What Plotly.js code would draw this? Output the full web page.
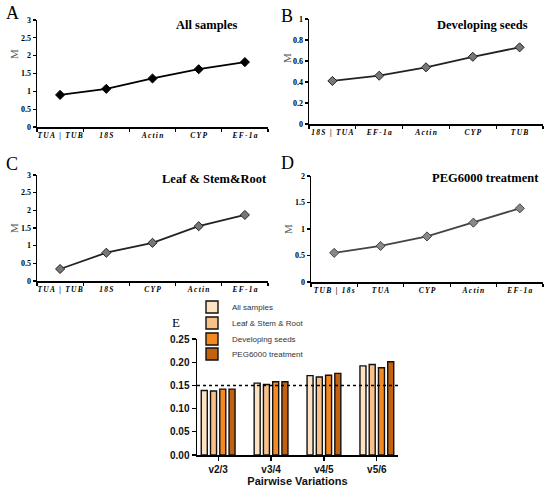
<!DOCTYPE html>
<html><head><meta charset="utf-8">
<script src="https://cdn.plot.ly/plotly-3.0.1.min.js"></script>
<style>html,body{margin:0;padding:0;background:#fff}#chart{width:550px;height:488px}</style>
</head><body><div id="chart"></div>
<script>
// ---- data ----
const catsA = ['TUA | TUB','18S','Actin','CYP','EF-1a'];
const valsA = [0.90,1.07,1.36,1.62,1.82];
const catsB = ['18S | TUA','EF-1a','Actin','CYP','TUB'];
const valsB = [0.41,0.46,0.54,0.64,0.73];
const catsC = ['TUA | TUB','18S','CYP','Actin','EF-1a'];
const valsC = [0.34,0.80,1.08,1.55,1.87];
const catsD = ['TUB | 18s','TUA','CYP','Actin','EF-1a'];
const valsD = [0.55,0.68,0.86,1.12,1.39];
const pairCats = ['v2/3','v3/4','v4/5','v5/6'];
const seriesNames = ['All samples','Leaf & Stem & Root','Developing seeds','PEG6000 treatment'];
const eAll  = [0.139,0.155,0.171,0.192];
const eLeaf = [0.138,0.152,0.168,0.195];
const eSeed = [0.142,0.158,0.172,0.188];
const ePeg  = [0.142,0.158,0.176,0.201];
const threshold = 0.15;

// ---- helpers ----
const W = 550, H = 488;
const spaced = s => s.split('').join('\u2006');
const dx = (a,b) => [a/W, b/W];
const dy = (top,bot) => [1-bot/H, 1-top/H];
const serif = 'Liberation Serif, Times New Roman, serif';
const sans = 'Liberation Sans, Arial, sans-serif';

function lineTrace(cats, vals, xa, ya, lineColor, fill) {
  return {
    type:'scatter', mode:'lines+markers', x: cats.map(spaced), y: vals,
    xaxis: xa, yaxis: ya, showlegend:false, hoverinfo:'skip',
    line:{color:lineColor, width:1.8},
    marker:{symbol:'diamond', size:7, color:fill, line:{color:lineColor, width:1}}
  };
}
const barColors = ['#FDE3C4','#F9C188','#F5891F','#C2620F'];
const barSeries = [eAll, eLeaf, eSeed, ePeg];
const legendIds = ['legend','legend2','legend3','legend4'];
const bars = barSeries.map((v,i) => ({
  type:'bar', x: pairCats, y: v, name: seriesNames[i], xaxis:'x5', yaxis:'y5', legend: legendIds[i],
  marker:{color: barColors[i], line:{color:'#111', width:1.4}}, hoverinfo:'skip'
}));

const data = [
  lineTrace(catsA, valsA, 'x', 'y', '#000', '#000'),
  lineTrace(catsB, valsB, 'x2', 'y2', '#222', '#777'),
  lineTrace(catsC, valsC, 'x3', 'y3', '#222', '#777'),
  lineTrace(catsD, valsD, 'x4', 'y4', '#444', '#888'),
  ...bars
];

function catX(domain, anchor) {
  return {
    domain, anchor, type:'category', range:[-0.5,4.5], tickson:'boundaries', tickangle:0,
    ticks:'outside', ticklen:3, tickwidth:1.2, tickcolor:'#000',
    showline:true, linecolor:'#000', linewidth:1.5, showgrid:false, zeroline:false,
    tickfont:{family:serif, size:7.5, weight:'bold', style:'italic', color:'#000'}
  };
}
function valY(domain, anchor, range, dtick) {
  return {
    domain, anchor, range, dtick, ticks:'outside', ticklen:3, tickwidth:1.2, tickcolor:'#000',
    showline:true, linecolor:'#000', linewidth:1.5, showgrid:false, zeroline:false,
    tickfont:{family:serif, size:8, weight:'bold', color:'#000'}
  };
}
function letter(t, x, y, size) {
  return {text:t, x:x/W, y:1-y/H, xref:'paper', yref:'paper', xanchor:'center', yanchor:'middle',
          showarrow:false, font:{family:serif, size:size, color:'#000'}};
}
function ytitle(x, y) {
  return {text:'M', x:x/W, y:1-y/H, xref:'paper', yref:'paper', xanchor:'center', yanchor:'middle',
          textangle:-90, showarrow:false, font:{family:serif, size:11, color:'#555'}};
}
function ptitle(t, x, y) {
  return {text:'<b>'+t+'</b>', x:x/W, y:1-y/H, xref:'paper', yref:'paper', xanchor:'center', yanchor:'middle',
          showarrow:false, font:{family:serif, size:12.5, color:'#000'}};
}
function legendAt(yc) {
  return {x:192/W, y:1-yc/H, xanchor:'left', yanchor:'middle', bgcolor:'rgba(0,0,0,0)',
          font:{family:sans, size:8, color:'#333'}, tracegroupgap:0};
}

const layout = {
  width:W, height:H, margin:{l:0,r:0,t:0,b:0}, paper_bgcolor:'#fff', plot_bgcolor:'rgba(0,0,0,0)',
  showlegend:true,
  xaxis:  catX(dx(37,268), 'y'),
  yaxis:  valY(dy(20,127), 'x', [0,3], 0.5),
  xaxis2: catX(dx(309,543), 'y2'),
  yaxis2: valY(dy(19,124), 'x2', [0,1], 0.2),
  xaxis3: catX(dx(37,268), 'y3'),
  yaxis3: valY(dy(175,281), 'x3', [0,3], 0.5),
  xaxis4: catX(dx(311,543), 'y4'),
  yaxis4: valY(dy(176,282), 'x4', [0,2], 0.5),
  xaxis5: {
    domain: dx(197,398), anchor:'y5', type:'category', range:[-0.4,3.4],
    ticks:'outside', ticklen:4, tickwidth:1.3, tickcolor:'#000',
    showline:true, linecolor:'#000', linewidth:1.5, showgrid:false, zeroline:false,
    tickfont:{family:sans, size:10, weight:'bold', color:'#111'},
    title:{text:'Pairwise Variations', font:{family:sans, size:11, weight:'bold', color:'#111'}, standoff:4}
  },
  yaxis5: {
    domain: dy(339,455), anchor:'x5', range:[0,0.25], dtick:0.05, tickformat:'.2f',
    ticks:'outside', ticklen:4, tickwidth:1.3, tickcolor:'#000',
    showline:true, linecolor:'#000', linewidth:1.5, showgrid:false, zeroline:false,
    tickfont:{family:sans, size:10, weight:'bold', color:'#111'}
  },
  barmode:'group', bargap:0.3, bargroupgap:0.35,
  legend: legendAt(307), legend2: legendAt(323), legend3: legendAt(339), legend4: legendAt(354),
  shapes:[{type:'line', xref:'x5 domain', x0:0, x1:1, yref:'y5', y0:threshold, y1:threshold,
           line:{color:'#000', width:1.5, dash:'dot'}}],
  annotations:[
    letter('A', 12, 13, 18), letter('B', 287, 16, 18), letter('C', 12, 164, 18), letter('D', 287, 163, 18),
    letter('E', 176, 322, 13),
    ytitle(14, 54), ytitle(287, 58), ytitle(14, 228), ytitle(288, 229),
    ptitle('All samples', 207, 25), ptitle('Developing seeds', 482, 25),
    ptitle('Leaf &amp; Stem&amp;Root', 214, 179), ptitle('PEG6000 treatment', 485, 178)
  ]
};
Plotly.newPlot('chart', data, layout, {staticPlot:true, displayModeBar:false});
</script></body></html>
